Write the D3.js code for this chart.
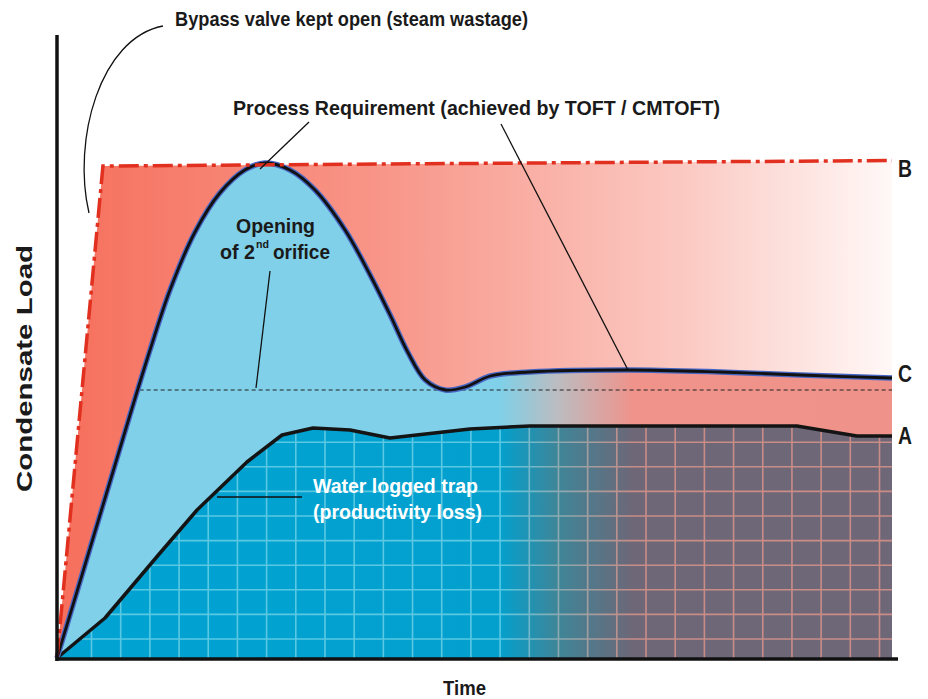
<!DOCTYPE html>
<html lang="en">
<head>
    <meta charset="UTF-8">
    <title>Condensate Load vs Time</title>
    <script src="https://d3js.org/d3.v7.min.js"></script>
    <style>
        body { margin: 0; background: #fff; }
        text {
            font-family: "Liberation Sans Narrow", "Arial Narrow", "Liberation Sans", Arial, sans-serif;
            font-weight: bold;
            fill: #1a1a1a;
        }
        .leader { fill: none; stroke: #111; stroke-width: 1.3px; }
    </style>
</head>
<body>
    <svg width="928" height="699"></svg>

    <script>
        // curves: [time, load], both on a 0-100 scale
        const bypassCurve = [[0, 0], [5.5, 98.4], [100, 99.5]];          // B
        const processCurve = [                                             // C
            [0, 0], [5.15, 28.6], [8.74, 48.6], [11.14, 61.6], [13.53, 73.6],
            [16.53, 85.2], [19.5, 93], [22.5, 97.6], [24.9, 99], [27.9, 97.6],
            [30.9, 93.6], [34.5, 85.6], [37.5, 76.6], [39.9, 68.6], [42, 61.2],
            [44.1, 55.6], [46.5, 53.6], [48.9, 54.2], [51.9, 56.4], [56.6, 57.2],
            [68.4, 57.6], [79.4, 57.2], [89, 56.6], [100, 56]
        ];
        const waterloggedCurve = [                                         // A
            [0, 0], [5.75, 8], [12.34, 21], [16.77, 29.6], [22.75, 39.2],
            [26.95, 44.6], [30.66, 46], [35.09, 45.6], [39.88, 44], [49.46, 45.8],
            [56.65, 46.4], [88.6, 46.4], [95.8, 44.4], [100, 44.4]
        ];
        const secondOrificeLoad = 53.6;   // dashed line
        const secondOrificeStart = 9.9;
        const gridCols = d3.range(28);
        const gridRows = d3.range(10);

        const svg = d3.select("svg");
        const x = d3.scaleLinear().domain([0, 100]).range([57, 892]);
        const y = d3.scaleLinear().domain([0, 100]).range([658, 158]);
        const gx = d3.scaleLinear().domain([0, 27]).range([91.5, 879.5]);
        const gy = d3.scaleLinear().domain([0, 9]).range([639, 417.6]);

        // gradients
        const defs = svg.append("defs");
        function gradient(id, stops) {
            const g = defs.append("linearGradient").attr("id", id)
                .attr("gradientUnits", "userSpaceOnUse")
                .attr("x1", x(0)).attr("x2", x(100)).attr("y1", 0).attr("y2", 0);
            stops.forEach(s => g.append("stop").attr("offset", s[0]).attr("stop-color", s[1]));
        }
        gradient("steam", [[0, "#f66f5c"], [0.4, "#f8978a"], [0.75, "#fbc9c2"], [1, "#fff8f7"]]);
        gradient("process", [[0, "#7fd0e8"], [0.53, "#7fd0e8"], [0.6, "#bcbcc0"], [0.69, "#ef938b"], [1, "#ef928a"]]);
        gradient("trap", [[0, "#00a3d3"], [0.53, "#03a0ce"], [0.6, "#3f8598"], [0.69, "#6d6777"], [1, "#6e6778"]]);
        gradient("trapGrid", [[0, "#5ac8e2"], [0.53, "#5ac8e2"], [0.6, "#8aaab0"], [0.69, "#c98c86"], [1, "#c98c86"]]);

        const area = d3.area().x(d => x(d[0])).y0(y(0)).y1(d => y(d[1]));
        const line = d3.line().x(d => x(d[0])).y(d => y(d[1]));

        // B: bypass region
        svg.append("path").attr("d", area(bypassCurve)).attr("fill", "url(#steam)");

        // C: process requirement
        const smooth = d3.curveCatmullRom.alpha(0.5);
        svg.append("path").attr("d", area.curve(smooth)(processCurve)).attr("fill", "url(#process)");

        // A: water logged trap with grid
        const trapArea = area.curve(d3.curveLinear)(waterloggedCurve);
        defs.append("clipPath").attr("id", "trapClip").append("path").attr("d", trapArea);
        svg.append("path").attr("d", trapArea).attr("fill", "url(#trap)");
        const grid = svg.append("g").attr("clip-path", "url(#trapClip)")
            .attr("stroke", "url(#trapGrid)").attr("stroke-width", 1.6);
        grid.selectAll(".gv").data(gridCols).enter().append("line")
            .attr("x1", d => gx(d)).attr("x2", d => gx(d)).attr("y1", 150).attr("y2", 660);
        grid.selectAll(".gh").data(gridRows).enter().append("line")
            .attr("x1", 40).attr("x2", 900).attr("y1", d => gy(d)).attr("y2", d => gy(d));

        // dashed 2nd orifice line
        svg.append("line")
            .attr("x1", x(secondOrificeStart)).attr("x2", x(100))
            .attr("y1", y(secondOrificeLoad)).attr("y2", y(secondOrificeLoad))
            .attr("stroke", "#222").attr("stroke-width", 1).attr("stroke-dasharray", "4,3");

        // curve outlines
        svg.append("path").attr("d", line(waterloggedCurve))
            .attr("fill", "none").attr("stroke", "#141414").attr("stroke-width", 3.5)
            .attr("stroke-linejoin", "round");
        const cPath = line.curve(smooth)(processCurve);
        svg.append("path").attr("d", cPath)
            .attr("fill", "none").attr("stroke", "#4766c4").attr("stroke-width", 5.5);
        svg.append("path").attr("d", cPath)
            .attr("fill", "none").attr("stroke", "#111").attr("stroke-width", 2.8);
        svg.append("path").attr("d", line.curve(d3.curveLinear)(bypassCurve))
            .attr("fill", "none").attr("stroke", "#e1301f").attr("stroke-width", 3.5)
            .attr("stroke-dasharray", "20,5,4,5");

        // axes
        svg.append("line").attr("x1", 57).attr("x2", 57).attr("y1", 35).attr("y2", 661)
            .attr("stroke", "#111").attr("stroke-width", 3.5);
        svg.append("line").attr("x1", 55.5).attr("x2", 898).attr("y1", 659).attr("y2", 659)
            .attr("stroke", "#111").attr("stroke-width", 3.5);

        // leader lines
        svg.append("path").attr("class", "leader").attr("d", "M163,26 C100,38 72,140 89,213");
        svg.append("path").attr("class", "leader").attr("d", "M309,122 L260,169");
        svg.append("path").attr("class", "leader").attr("d", "M501,124 L628,370");
        svg.append("path").attr("class", "leader").attr("d", "M270,271 L256,388");
        svg.append("path").attr("class", "leader").attr("d", "M217,497 L302,497").style("stroke-width", "1.6px");

        // text
        function label(str, x0, x1, yb, size, color) {
            return svg.append("text").attr("x", x0).attr("y", yb)
                .attr("font-size", size).attr("textLength", x1 - x0)
                .attr("lengthAdjust", "spacingAndGlyphs")
                .style("fill", color || "#1a1a1a")
                .text(str);
        }
        label("Bypass valve kept open (steam wastage)", 175, 528, 26, 21);
        label("Process Requirement (achieved by TOFT / CMTOFT)", 233, 720, 115, 21);
        label("Opening", 236, 315, 233, 21);
        label("of 2", 220, 255, 259, 21);
        label("nd", 256, 269, 248, 11);
        label("orifice", 273, 330, 259, 21);
        label("Water logged trap", 313, 478, 493, 21, "#fff");
        label("(productivity loss)", 313, 482, 519, 21, "#fff");
        label("B", 898, 912, 177, 23);
        label("C", 898, 912, 382, 23);
        label("A", 898, 912, 444, 23);
        label("Time", 443, 486, 695, 20);
        svg.append("text")
            .attr("transform", "translate(32,492) rotate(-90)")
            .attr("font-size", 22).attr("textLength", 247)
            .attr("lengthAdjust", "spacingAndGlyphs")
            .text("Condensate Load");
    </script>
</body>
</html>
